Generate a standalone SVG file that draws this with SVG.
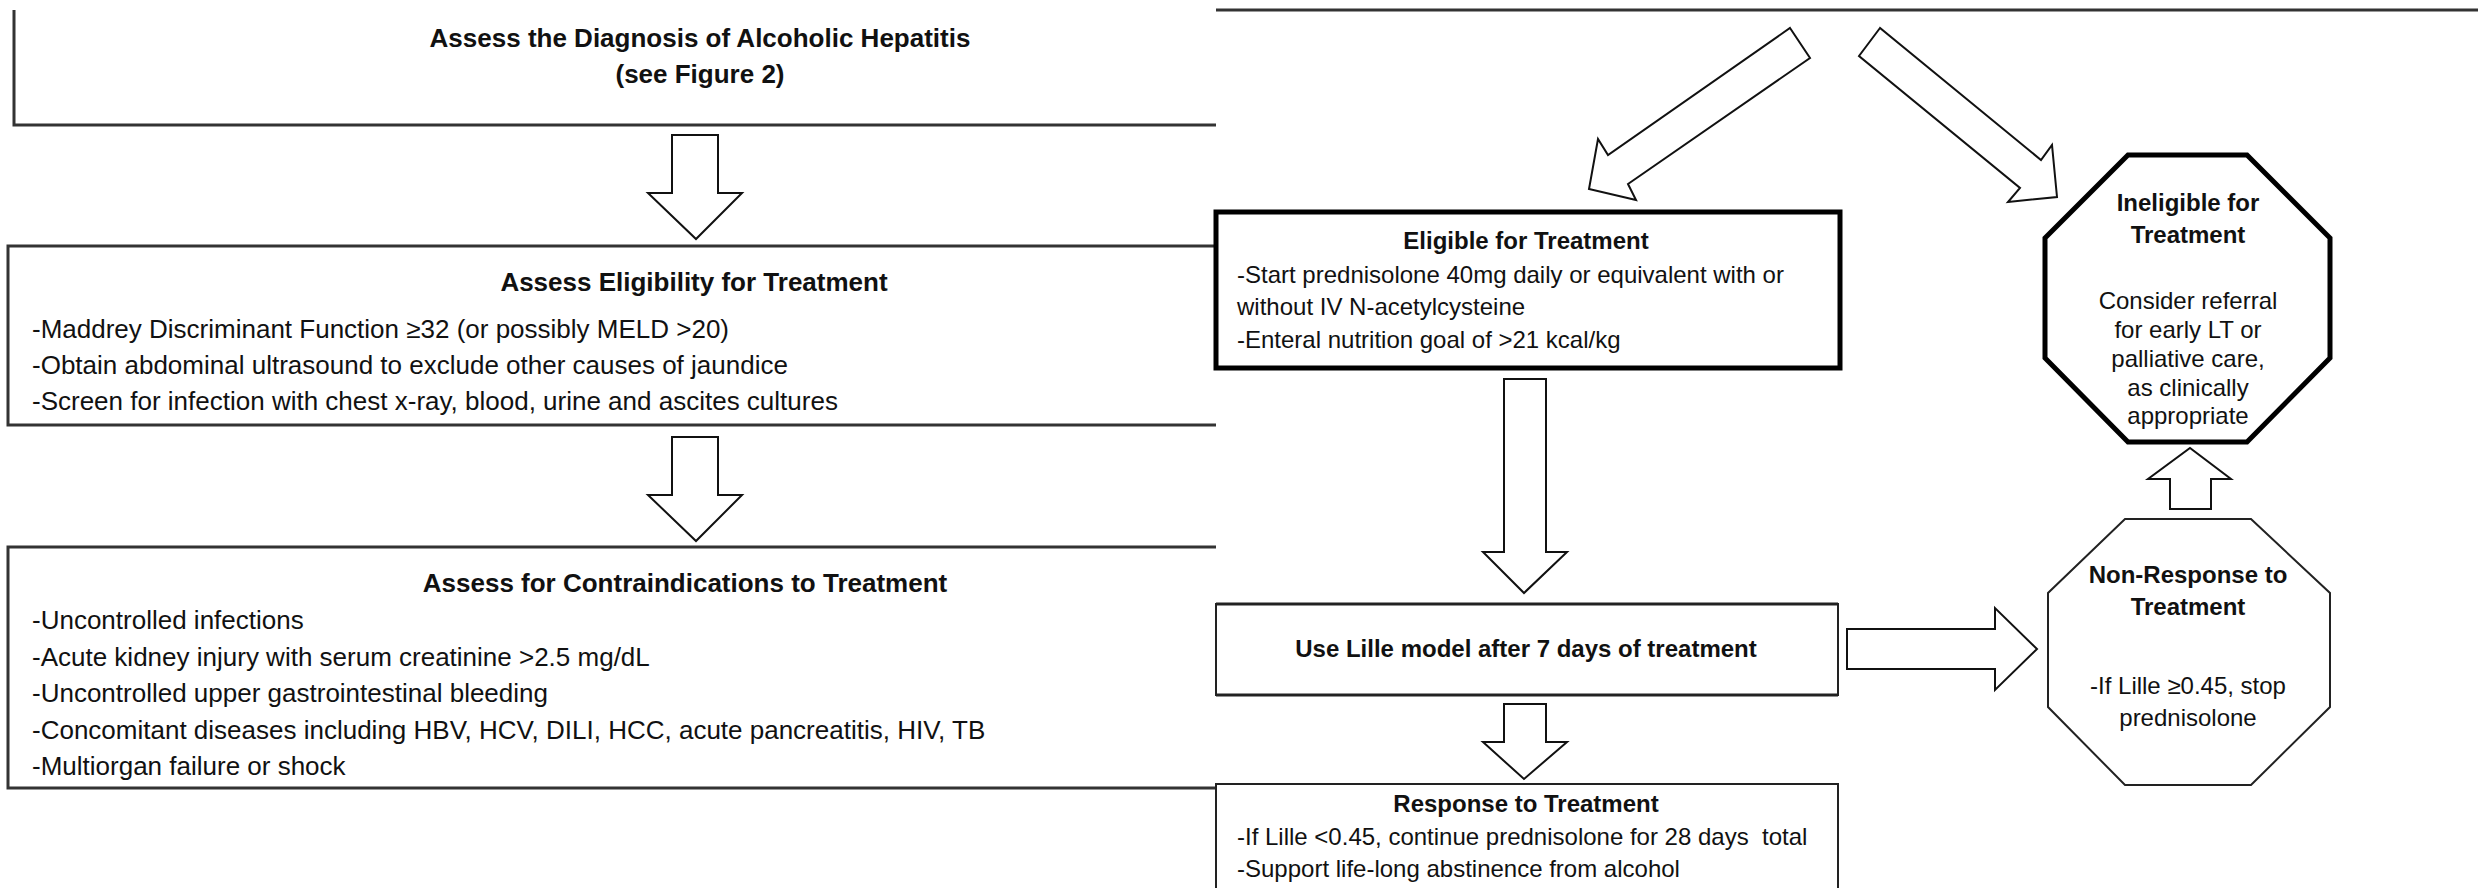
<svg xmlns="http://www.w3.org/2000/svg" width="2478" height="888" viewBox="0 0 2478 888">
<style>
text{font-family:"Liberation Sans",Arial,sans-serif;fill:#111;}
.l{font-size:26px;}
.r{font-size:24px;}
.b{font-weight:bold;}
.c{text-anchor:middle;}
.box{fill:none;stroke:#333;stroke-width:3;}
.thin{fill:none;stroke:#222;stroke-width:2;}
.thick{fill:none;stroke:#000;stroke-width:5;}
.arr{fill:#fff;stroke:#111;stroke-width:2;stroke-linejoin:miter;}
</style>
<rect width="2478" height="888" fill="#fff"/>

<g id="diagnosis">
<path class="box" d="M14,10 V125 H1216"/>
<text class="l b c" x="700" y="47">Assess the Diagnosis of Alcoholic Hepatitis</text>
<text class="l b c" x="700" y="83">(see Figure 2)</text>
</g>

<g id="eligibility">
<path class="box" d="M1216,246 H8 V425 H1216"/>
<text class="l b c" x="694" y="291">Assess Eligibility for Treatment</text>
<text class="l" x="32" y="338">-Maddrey Discriminant Function ≥32 (or possibly MELD &gt;20)</text>
<text class="l" x="32" y="374">-Obtain abdominal ultrasound to exclude other causes of jaundice</text>
<text class="l" x="32" y="410">-Screen for infection with chest x-ray, blood, urine and ascites cultures</text>
</g>

<g id="contraindications">
<path class="box" d="M1216,547 H8 V788 H1216"/>
<text class="l b c" x="685" y="592">Assess for Contraindications to Treatment</text>
<text class="l" x="32" y="629">-Uncontrolled infections</text>
<text class="l" x="32" y="666">-Acute kidney injury with serum creatinine &gt;2.5 mg/dL</text>
<text class="l" x="32" y="702">-Uncontrolled upper gastrointestinal bleeding</text>
<text class="l" x="32" y="739">-Concomitant diseases including HBV, HCV, DILI, HCC, acute pancreatitis, HIV, TB</text>
<text class="l" x="32" y="775">-Multiorgan failure or shock</text>
</g>

<g id="top-line">
<path class="box" d="M1216,10 H2478"/>
</g>

<g id="eligible">
<rect class="thick" x="1216" y="212" width="624" height="156"/>
<text class="r b c" x="1526" y="249">Eligible for Treatment</text>
<text class="r" x="1237" y="283">-Start prednisolone 40mg daily or equivalent with or</text>
<text class="r" x="1237" y="315">without IV N-acetylcysteine</text>
<text class="r" x="1237" y="348">-Enteral nutrition goal of &gt;21 kcal/kg</text>
</g>

<g id="ineligible">
<polygon class="thick" points="2128,155 2247,155 2330,238 2330,358 2247,442 2128,442 2045,358 2045,238"/>
<text class="r b c" x="2188" y="211">Ineligible for</text>
<text class="r b c" x="2188" y="243">Treatment</text>
<text class="r c" x="2188" y="309">Consider referral</text>
<text class="r c" x="2188" y="338">for early LT or</text>
<text class="r c" x="2188" y="367">palliative care,</text>
<text class="r c" x="2188" y="396">as clinically</text>
<text class="r c" x="2188" y="424">appropriate</text>
</g>

<g id="lille">
<rect class="thin" x="1216" y="604" width="622" height="91"/>
<path fill="none" stroke="#222" stroke-width="3" d="M1216,604 H1838 M1216,695 H1838"/>
<text class="r b c" x="1526" y="657">Use Lille model after 7 days of treatment</text>
</g>

<g id="nonresponse">
<polygon class="thin" points="2125,519 2251,519 2330,593 2330,707 2251,785 2125,785 2048,707 2048,593"/>
<text class="r b c" x="2188" y="583">Non-Response to</text>
<text class="r b c" x="2188" y="615">Treatment</text>
<text class="r c" x="2188" y="694">-If Lille ≥0.45, stop</text>
<text class="r c" x="2188" y="726">prednisolone</text>
</g>

<g id="response">
<path class="thin" d="M1216,888 V784 H1838 V888"/>
<text class="r b c" x="1526" y="812">Response to Treatment</text>
<text class="r" x="1237" y="845" xml:space="preserve">-If Lille &lt;0.45, continue prednisolone for 28 days  total</text>
<text class="r" x="1237" y="877">-Support life-long abstinence from alcohol</text>
</g>

<g id="connectors">
<path class="arr" d="M672,135 H718 V193 H742 L696,239 L648,193 H672 Z"/>
<path class="arr" d="M672,437 H718 V495 H742 L696,541 L648,495 H672 Z"/>
<path class="arr" d="M1790,28 L1810,58 L1628,184 L1636,200 L1589,189 L1598,139 L1608,155 Z"/>
<path class="arr" d="M1880,28 L1859,56 L2020,188 L2008,202 L2057,197 L2052,145 L2041,160 Z"/>
<path class="arr" d="M1504,379 H1546 V552 H1567 L1524,593 L1483,552 H1504 Z"/>
<path class="arr" d="M1504,704 H1546 V742 H1567 L1524,779 L1483,742 H1504 Z"/>
<path class="arr" d="M1847,629 H1995 V608 L2037,649 L1995,690 V669 H1847 Z"/>
<path class="arr" d="M2170,509 V479 H2148 L2190,448 L2231,479 H2211 V509 Z"/>
</g>
</svg>
